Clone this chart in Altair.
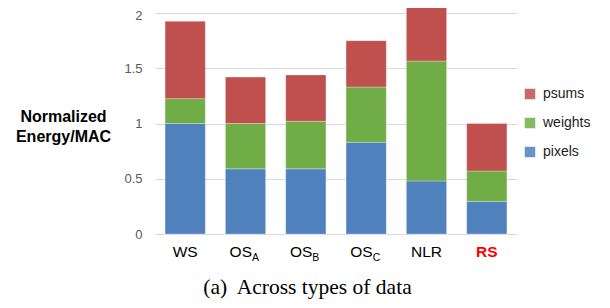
import altair as alt
import pandas as pd

categories = ["WS", "OS_A", "OS_B", "OS_C", "NLR", "RS"]
label_main = ["WS", "OS", "OS", "OS", "NLR", "RS"]
label_sub = ["", "A", "B", "C", "", ""]
label_kind = ["plain", "sub", "sub", "sub", "plain", "hl"]
series = ["psums", "weights", "pixels"]
pixels = [1.0, 0.59, 0.59, 0.83, 0.48, 0.295]
weights = [0.225, 0.41, 0.43, 0.50, 1.085, 0.275]
psums = [0.70, 0.42, 0.42, 0.42, 0.535, 0.43]
y_ticks = [0, 0.5, 1, 1.5, 2]
caption = "(a)\u00a0 Across types of data"

rows = []
for i, c in enumerate(categories):
    for s, vals, o in (("pixels", pixels, 0), ("weights", weights, 1), ("psums", psums, 2)):
        rows.append(dict(cat=c, series=s, value=vals[i], order=o))
df = pd.DataFrame(rows)

lab = pd.DataFrame(dict(cat=categories, main=label_main, sub=label_sub, kind=label_kind))

W, H = 362, 221
xscale = alt.Scale(domain=categories, paddingInner=0.333, paddingOuter=0.167)
FONT = "Liberation Sans"

bars = alt.Chart(df).mark_bar(stroke="white", strokeWidth=0.3).encode(
    x=alt.X("cat:N", scale=xscale, axis=None, sort=categories),
    y=alt.Y(
        "value:Q",
        stack="zero",
        scale=alt.Scale(domain=[0, 2], nice=False),
        axis=alt.Axis(
            values=y_ticks, format="~g", grid=True, gridColor="#D9D9D9",
            domain=False, ticks=False, labelPadding=13, labelFontSize=13,
            labelColor="#595959", labelFont=FONT,
            labelOffset=alt.condition("datum.value == 2", alt.value(2), alt.value(0)),
            title=["Normalized", "Energy/MAC"], titleAngle=0, titleX=-92, titleY=103,
            titleAlign="center", titleBaseline="middle", titleFontSize=16,
            titleFontWeight="bold", titleFont=FONT, titleLineHeight=20, titleColor="black",
        ),
    ),
    color=alt.Color(
        "series:N",
        scale=alt.Scale(domain=series, range=["#C0504D", "#70AD47", "#4F81BD"]),
        legend=alt.Legend(
            orient="none", legendX=368, legendY=74, title=None, symbolType="square",
            symbolSize=110, symbolStrokeWidth=0, symbolOpacity=0.85, labelFontSize=14,
            labelFont=FONT, labelColor="#222222", rowPadding=15, labelOffset=6,
        ),
    ),
    order=alt.Order("order:Q"),
)

base = alt.Chart(lab).encode(x=alt.X("cat:N", scale=xscale, axis=None, sort=categories))

LAB_Y = 243.7
SUB_Y = 248

plain = base.transform_filter("datum.kind == 'plain'").mark_text(
    align="center", baseline="alphabetic", font=FONT, fontSize=15.5, color="black"
).encode(y=alt.value(LAB_Y), text="main:N")

hl = base.transform_filter("datum.kind == 'hl'").mark_text(
    align="center", baseline="alphabetic", font=FONT, fontSize=15.5, color="#FF0000",
    fontWeight="bold"
).encode(y=alt.value(LAB_Y), text="main:N")

submain = base.transform_filter("datum.kind == 'sub'").mark_text(
    align="right", baseline="alphabetic", font=FONT, fontSize=15.5, color="black", dx=6.5
).encode(y=alt.value(LAB_Y), text="main:N")

subs = base.transform_filter("datum.kind == 'sub'").mark_text(
    align="left", baseline="alphabetic", font=FONT, fontSize=10.5, color="black", dx=6.5
).encode(y=alt.value(SUB_Y), text="sub:N")

cap = alt.Chart(pd.DataFrame({"t": [caption]})).mark_text(
    align="center", baseline="alphabetic", font="Liberation Serif", fontSize=21.5, color="black"
).encode(text="t:N", x=alt.value(152.5), y=alt.value(281))

chart = alt.layer(bars, plain, hl, submain, subs, cap).properties(
    width=W, height=H,
    autosize=alt.AutoSizeParams(type="none"),
    padding={"left": 147, "top": 5, "right": 85, "bottom": 66},
).configure_view(stroke=None)

chart.save("out.html", embed_options={"renderer": "svg", "actions": False})
